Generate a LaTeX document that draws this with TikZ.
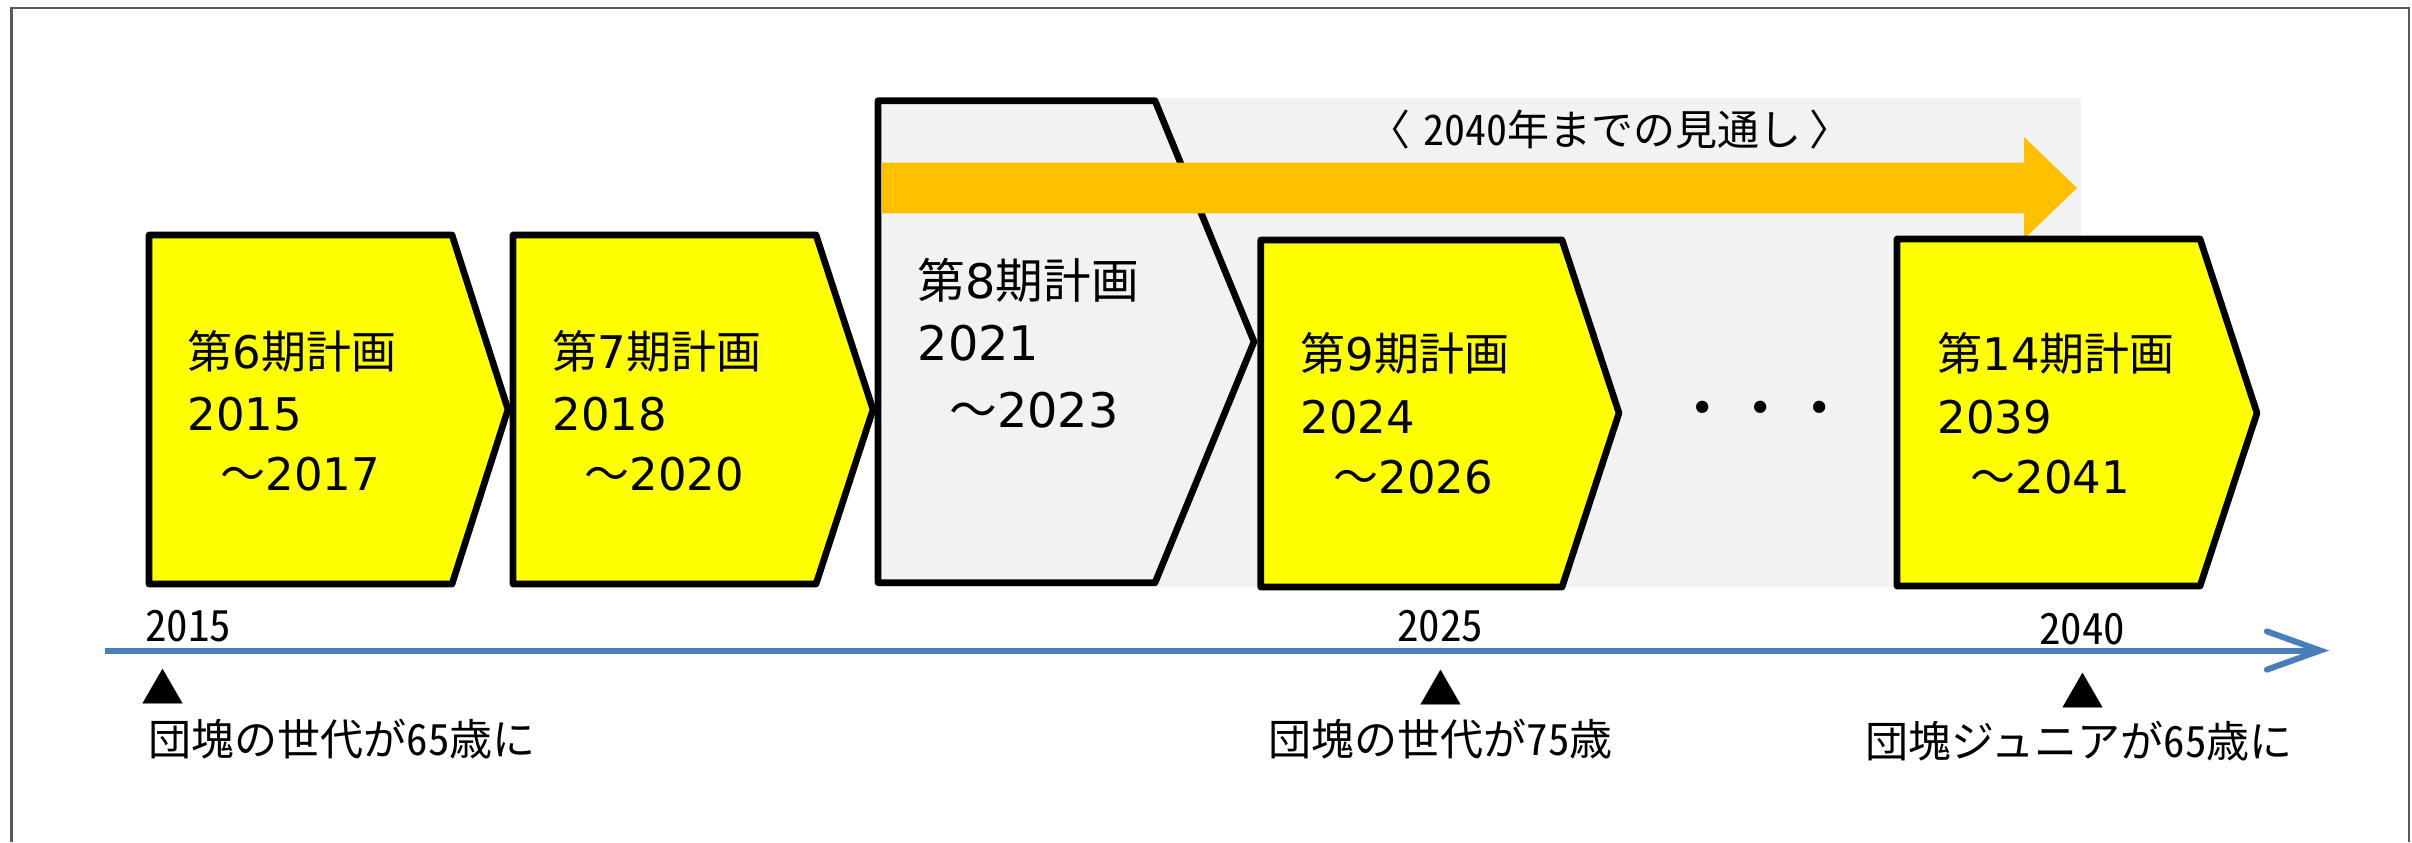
\documentclass[tikz,border=0pt]{standalone}
\usepackage{fontspec}
\setmainfont{Noto Sans CJK JP}
\newfontfamily\jp{Noto Sans CJK JP}
\newfontfamily\jph[RawFeature=+hwid]{Noto Sans CJK JP}
\newfontfamily\dv{DejaVu Sans}
\usetikzlibrary{arrows.meta}
\definecolor{planyellow}{HTML}{FFFF00}
\definecolor{outlookgray}{HTML}{F2F2F2}
\definecolor{outlookorange}{HTML}{FFC000}
\definecolor{axisblue}{HTML}{4A7EBB}
\definecolor{framegray}{HTML}{595959}
\begin{document}
\begin{tikzpicture}[x=0.3pt,y=-0.3pt,
  planbox/.style={draw=black,line width=2.0pt,line join=round},
  boxtext/.style={anchor=base west,inner sep=0pt,font=\jp\fontsize{13.5pt}{16pt}\selectfont},
  bigboxtext/.style={anchor=base west,inner sep=0pt,font=\jp\fontsize{14.3pt}{17pt}\selectfont},
  yearlabel/.style={anchor=base,inner sep=0pt,font=\jph\fontsize{12.9pt}{15pt}\selectfont},
  eventlabel/.style={anchor=base west,inner sep=0pt,font=\jph\fontsize{12.9pt}{15pt}\selectfont},
  marktri/.style={anchor=center,inner sep=0pt,font=\jp\fontsize{12.9pt}{15pt}\selectfont},
  axisline/.style={draw=axisblue,line width=1.8pt,-{Straight Barb[length=16pt,width=11.5pt,line cap=round]}}
]
\useasboundingbox (0,0) rectangle (2412,842);
% outer frame
\draw[framegray,line width=0.75pt] (11.7,842) -- (11.7,8) -- (2409,8) -- (2409,842);
% outlook background
\fill[outlookgray] (878,98) rectangle (2081,587);
% plan 8 (grey)
\path[planbox,fill=outlookgray] (878,100.7) -- (1155,100.7) -- (1254,341.7) -- (1155,582.7) -- (878,582.7) -- cycle;
% orange arrow
\fill[outlookorange] (881.5,162.7) -- (2024,162.7) -- (2024,137) -- (2077,188) -- (2024,239) -- (2024,213.3) -- (881.5,213.3) -- cycle;
\node[inner sep=0pt,anchor=base,font=\jph\fontsize{12.6pt}{15pt}\selectfont] (outlook) at (1610,145) {〈\kern4pt 2040年までの見通し\kern2.5pt〉};
% yellow plans
\path[planbox,fill=planyellow] (149,235) -- (452,235) -- (508,409.5) -- (452,584) -- (149,584) -- cycle;
\path[planbox,fill=planyellow] (513,235) -- (816,235) -- (873,409.5) -- (816,584) -- (513,584) -- cycle;
\path[planbox,fill=planyellow] (1260.7,240) -- (1562,240) -- (1619,413) -- (1562,587) -- (1260.7,587) -- cycle;
\path[planbox,fill=planyellow] (1897,239) -- (2200,239) -- (2257,413) -- (2200,586) -- (1897,586) -- cycle;
% plan texts
\node[boxtext] (p6a) at (187,368) {第{\dv 6}期計画};
\node[boxtext] (p6b) at (187,430) {\dv 2015};
\node[boxtext] (p6c) at (220,490) {～{\dv 2017}};
\node[boxtext] (p7a) at (552,368) {第{\dv 7}期計画};
\node[boxtext] (p7b) at (552,430) {\dv 2018};
\node[boxtext] (p7c) at (584,490) {～{\dv 2020}};
\node[bigboxtext] (p8a) at (917,298) {第{\dv 8}期計画};
\node[bigboxtext] (p8b) at (917,360) {\dv 2021};
\node[bigboxtext] (p8c) at (949,427) {～{\dv 2023}};
\node[boxtext] (p9a) at (1300,370) {第{\dv 9}期計画};
\node[boxtext] (p9b) at (1300,433) {\dv 2024};
\node[boxtext] (p9c) at (1333,493) {～{\dv 2026}};
\node[boxtext] (p14a) at (1937,370) {第{\dv 14}期計画};
\node[boxtext] (p14b) at (1937,433) {\dv 2039};
\node[boxtext] (p14c) at (1970,493) {～{\dv 2041}};
% dots
\node[inner sep=0pt,anchor=center,font=\jp\fontsize{17.5pt}{20pt}\selectfont] (dots) at (1761,415) {・・・};
% axis
\coordinate (axstart) at (105,650.5);
\coordinate (axend) at (2329,650.5);
\draw[axisline] (axstart) -- (axend);
\node[yearlabel] (y2015) at (188,641) {2015};
\node[yearlabel] (y2025) at (1440,641) {2025};
\node[yearlabel] (y2040) at (2082,644) {2040};
% markers
\node[marktri] (m1) at (163,687) {▲};
\node[marktri] (m2) at (1441,687.5) {▲};
\node[marktri] (m3) at (2083,691) {▲};
\node[eventlabel] (e1) at (148,755) {団塊の世代が65歳に};
\node[eventlabel] (e2) at (1268,755) {団塊の世代が75歳};
\node[eventlabel] (e3) at (1865,757) {団塊ジュニアが65歳に};
\end{tikzpicture}
\end{document}
